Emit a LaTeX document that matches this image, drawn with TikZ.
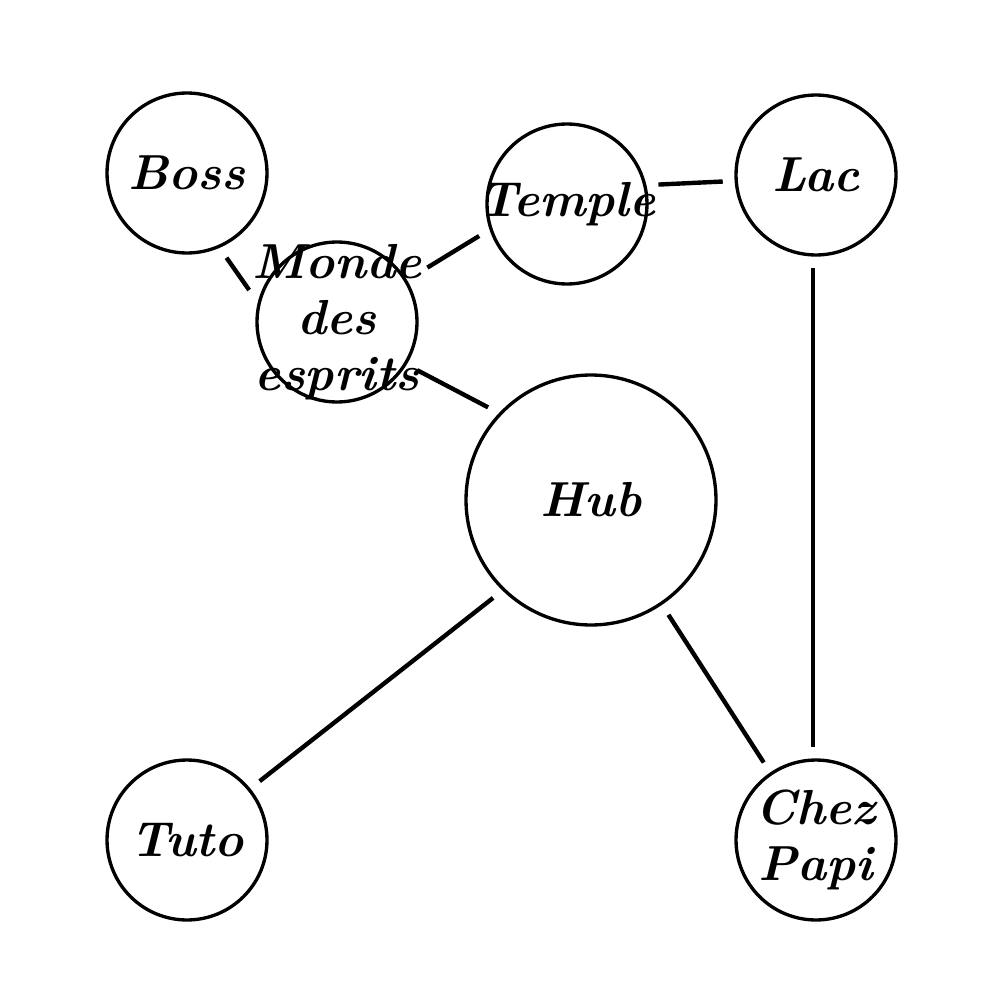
\documentclass[tikz,border=0pt]{standalone}
\usepackage{tikz}
\usetikzlibrary{positioning}

\begin{document}
\begin{tikzpicture}[x=0.02cm,y=-0.02cm,
 place/.style={circle,draw,line width=1.9pt,minimum size=3.2cm,inner sep=0pt,outer sep=0.27cm,
   label={[align=center,font=\bfseries\itshape\fontsize{28}{32}\selectfont]center:#1}},
 bigplace/.style={place=#1,minimum size=5cm},
 road/.style={line width=2.5pt}
]
\useasboundingbox (0,0) rectangle (1000,1000);
\node[place={Boss}] (boss) at (187,173) {};
\node[place={Temple}] (temple) at (567,204) {};
\node[place={Lac}] (lac) at (816,175) {};
\node[place={Monde\\des\\esprits}] (monde) at (337,322) {};
\node[bigplace={Hub}] (hub) at (591,500) {};
\node[place={Tuto}] (tuto) at (187,840) {};
\node[place={Chez\\Papi}] (papi) at (816,840) {};
% roads between places
\draw[road] (boss.-65)--(monde.160);
\draw[road,shorten <=0.24cm] (monde.31)--(temple.-160);
\draw[road] (temple.12)--(lac.-176);
\draw[road] (monde.-31)--(hub.138);
\draw[road] (lac.-92)--(papi.92);
\draw[road] (hub.-135)--(tuto.39);
\draw[road] (hub.-56)--(papi.124);
\end{tikzpicture}
\end{document}
